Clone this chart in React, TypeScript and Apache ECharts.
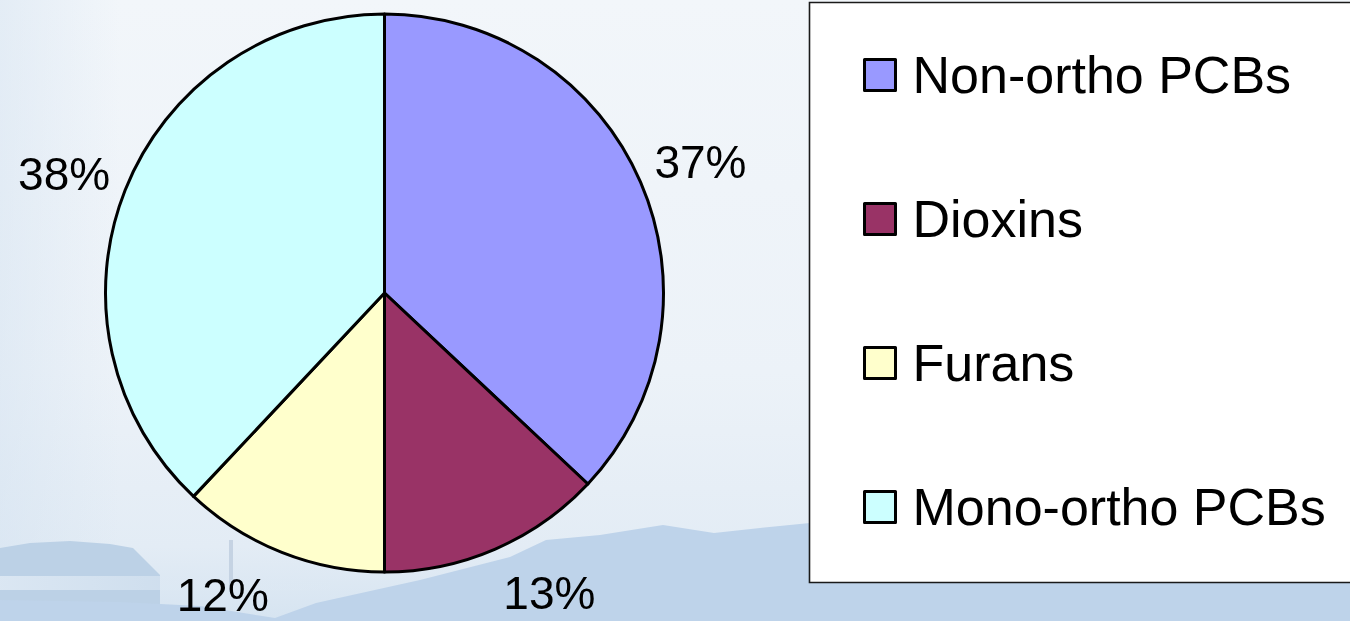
import React, { useEffect, useRef } from "react";
import * as echarts from "echarts";

// ---- data ----
const categories = ["Non-ortho PCBs", "Dioxins", "Furans", "Mono-ortho PCBs"];
const values = [37, 13, 12, 38];

// ---- styles (kept apart from the data) ----
const colors = ["#9999FF", "#993366", "#FFFFCC", "#CCFFFF"];
const labelLineLen = [50, 48, 46, 44];
const labelLineLen2 = [-37, -16, -9, -31];

const FONT = "'Liberation Sans', Arial, Helvetica, sans-serif";

export default function App() {
  const ref = useRef<HTMLDivElement>(null);

  useEffect(() => {
    const chart = echarts.init(ref.current!, null, { renderer: "svg" });
    chart.setOption({
      animation: false,
      graphic: [
        {
          type: "rect",
          z: 0,
          shape: { x: 0, y: 0, width: 1350, height: 621 },
          style: {
            fill: new echarts.graphic.LinearGradient(0, 0, 0, 1, [
              { offset: 0, color: "#f2f6fa" },
              { offset: 0.6, color: "#ecf2f8" },
              { offset: 0.88, color: "#e3ecf5" },
              { offset: 1, color: "#d6e4f1" },
            ]),
          },
        },
        {
          type: "rect",
          z: 0,
          shape: { x: 0, y: 0, width: 120, height: 560 },
          style: {
            fill: new echarts.graphic.LinearGradient(0, 0, 1, 0, [
              { offset: 0, color: "rgba(210,225,240,0.45)" },
              { offset: 1, color: "rgba(210,225,240,0)" },
            ]),
          },
        },
        {
          type: "polygon",
          z: 0,
          shape: {
            points: [
              [0, 548], [30, 543], [70, 541], [110, 544], [133, 548],
              [150, 565], [160, 575], [160, 621], [0, 621],
            ],
          },
          style: { fill: "#bcd1e6" },
        },
        {
          type: "rect",
          z: 0,
          shape: { x: 0, y: 576, width: 330, height: 14 },
          style: {
            fill: new echarts.graphic.LinearGradient(0, 0, 1, 0, [
              { offset: 0, color: "rgba(222,233,244,0.9)" },
              { offset: 1, color: "rgba(222,233,244,0.2)" },
            ]),
          },
        },
        {
          type: "rect",
          z: 0,
          shape: { x: 229, y: 540, width: 4, height: 52 },
          style: { fill: "rgba(190,205,222,0.8)" },
        },
        {
          type: "polygon",
          z: 0,
          shape: {
            points: [
              [0, 600], [120, 602], [200, 606], [275, 618], [316, 603],
              [420, 580], [510, 557], [546, 540], [600, 535], [663, 525],
              [714, 533], [760, 528], [820, 522], [1350, 540], [1350, 621], [0, 621],
            ],
          },
          style: { fill: "#bed3ea" },
        },
        {
          type: "rect",
          z: 1,
          shape: { x: 809.5, y: 2.5, width: 600, height: 580 },
          style: { fill: "#ffffff", stroke: "#1a1a1a", lineWidth: 1.6 },
        },
      ],
      legend: {
        orient: "vertical",
        left: 863,
        top: 45,
        padding: 0,
        itemWidth: 31,
        itemHeight: 31,
        itemGap: 84,
        icon: "rect",
        itemStyle: { borderColor: "#000", borderWidth: 3 },
        textStyle: {
          fontSize: 52,
          lineHeight: 60,
          color: "#000",
          fontFamily: FONT,
          padding: [0, 0, 0, 12],
        },
        selectedMode: false,
        data: categories,
      },
      series: [
        {
          type: "pie",
          center: [384.5, 293],
          radius: 279,
          startAngle: 90,
          clockwise: true,
          avoidLabelOverlap: false,
          itemStyle: { borderColor: "#000", borderWidth: 3 },
          label: {
            show: true,
            position: "outside",
            formatter: "{d}%",
            fontSize: 46,
            lineHeight: 36,
            color: "#000",
            fontFamily: FONT,
            distanceToLabelLine: 5,
          },
          labelLine: { show: false },
          emphasis: { disabled: true },
          data: categories.map((name, i) => ({
            name,
            value: values[i],
            itemStyle: { color: colors[i] },
            labelLine: { show: false, length: labelLineLen[i], length2: labelLineLen2[i] },
          })),
        },
      ],
    });
    return () => chart.dispose();
  }, []);

  return (
    <div
      ref={ref}
      style={{ position: "fixed", left: 0, top: 0, width: 1350, height: 621 }}
    />
  );
}
